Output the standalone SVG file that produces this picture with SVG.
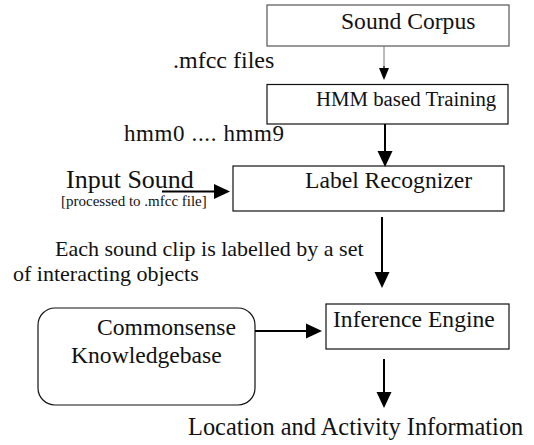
<svg xmlns="http://www.w3.org/2000/svg" width="534" height="445" viewBox="0 0 534 445" font-family="'Liberation Serif', 'Times New Roman', Times, serif">
  <style>
    text { font-family: "Liberation Serif", "Times New Roman", Times, serif; fill: #111; }
    .box { fill: #fff; stroke: #111; stroke-width: 1.2; }
    .lbl { font-size: 23.6px; }
    .note { font-size: 22px; }
    .wire { stroke: #000; stroke-width: 2; fill: none; }
    .thin { stroke: #777; stroke-width: 1; fill: none; }
  </style>
  <defs>
    <marker id="head" markerUnits="userSpaceOnUse" markerWidth="16" markerHeight="16" refX="2" refY="8" orient="auto">
      <path d="M0,0.5 L16,8 L0,15.5 z" fill="#000"/>
    </marker>
    <marker id="headSmall" markerUnits="userSpaceOnUse" markerWidth="12" markerHeight="11" refX="1" refY="5.5" orient="auto">
      <path d="M0,0.5 L12,5.5 L0,10.5 z" fill="#000"/>
    </marker>
  </defs>

  <rect width="534" height="445" fill="#fff"/>

  <g id="sound-corpus">
    <rect class="box" x="267" y="5" width="242" height="41" style="stroke:#555"/>
    <text class="lbl" x="341" y="29">Sound Corpus</text>
  </g>

  <g id="hmm-training">
    <rect class="box" x="267" y="84.5" width="241" height="39.5"/>
    <text x="316" y="106" font-size="20.8">HMM based Training</text>
  </g>

  <g id="label-recognizer">
    <rect class="box" x="233" y="166" width="271" height="45"/>
    <text class="lbl" x="305" y="188">Label Recognizer</text>
  </g>

  <g id="commonsense-kb">
    <rect class="box" x="38" y="308" width="217" height="97" rx="17" ry="17"/>
    <text class="lbl" x="97" y="335">Commonsense</text>
    <text class="lbl" x="71" y="363">Knowledgebase</text>
  </g>

  <g id="inference-engine">
    <rect class="box" x="326" y="304" width="183" height="45"/>
    <text class="lbl" x="333" y="327">Inference Engine</text>
  </g>

  <g id="labels">
    <text x="173" y="68" font-size="24">.mfcc files</text>
    <text x="124" y="141" font-size="23" textLength="160" lengthAdjust="spacing">hmm0 .... hmm9</text>
    <text x="66" y="188" font-size="26">Input Sound</text>
    <text x="61" y="206" font-size="15">[processed to .mfcc file]</text>
    <text class="note" x="55" y="256">Each sound clip is labelled by a set</text>
    <text class="note" x="13" y="281">of interacting objects</text>
    <text x="188" y="435" font-size="24.4">Location and Activity Information</text>
  </g>

  <g id="connectors">
    <line class="thin" x1="384" y1="46" x2="384" y2="69"/>
    <line class="wire" x1="384" y1="66" x2="384" y2="69" stroke-width="1" style="stroke-width:1" marker-end="url(#headSmall)"/>
    <line class="wire" x1="385" y1="124" x2="385" y2="153" marker-end="url(#head)"/>
    <line class="wire" x1="162" y1="191.5" x2="216" y2="191.5" marker-end="url(#head)"/>
    <line class="wire" x1="382" y1="217" x2="382" y2="274" marker-end="url(#head)"/>
    <line class="wire" x1="255" y1="331" x2="308" y2="331" marker-end="url(#head)"/>
    <line class="wire" x1="384" y1="359" x2="384" y2="394" marker-end="url(#head)"/>
  </g>
</svg>
